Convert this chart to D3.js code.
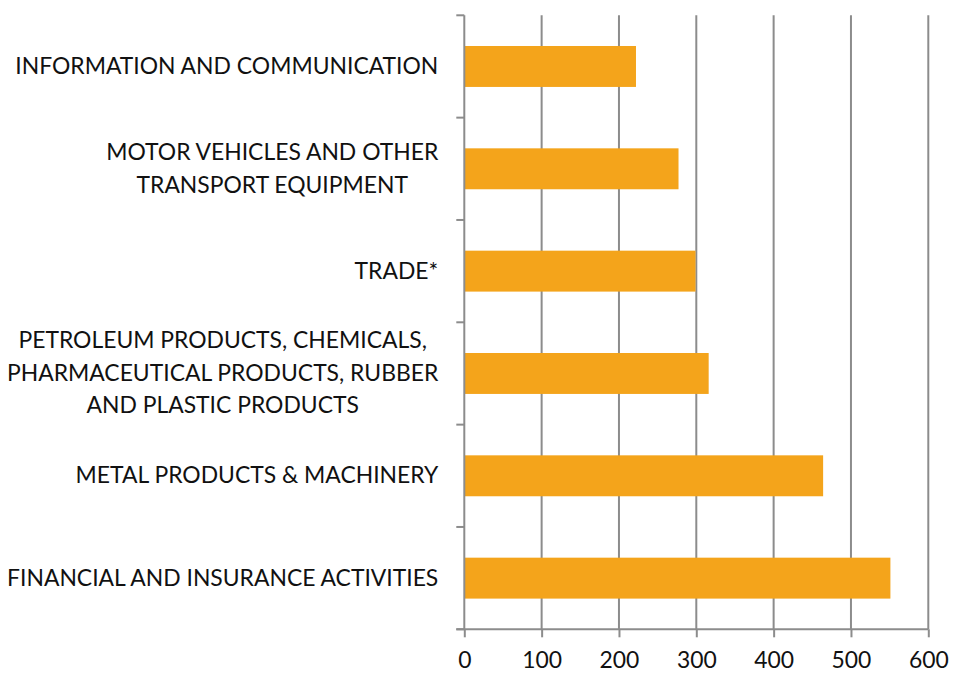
<!DOCTYPE html>
<html>
<head>
<meta charset="utf-8">
<script src="https://cdn.jsdelivr.net/npm/d3@7"></script>
<style>
  html, body { margin: 0; padding: 0; background: #fff; }
  svg { display: block; }
  text { font-family: Lato, "Open Sans", sans-serif; fill: #111; }
</style>
</head>
<body>
<svg id="chart" width="953" height="675"></svg>
<script>
// Sectors, top to bottom, each label split into its display lines
const categories = [
  ["INFORMATION AND COMMUNICATION"],
  ["MOTOR VEHICLES AND OTHER", "TRANSPORT EQUIPMENT"],
  ["TRADE*"],
  ["PETROLEUM PRODUCTS, CHEMICALS, ", "PHARMACEUTICAL PRODUCTS, RUBBER", "AND PLASTIC PRODUCTS"],
  ["METAL PRODUCTS & MACHINERY"],
  ["FINANCIAL AND INSURANCE ACTIVITIES"]
];
const values = [222, 277, 299, 316, 464, 551];
const xTicks = [0, 100, 200, 300, 400, 500, 600];

const svg = d3.select("#chart");
const margin = { left: 464.3, right: 953 - 928.3, top: 15.3, bottom: 675 - 629.3 };
const width = 953 - margin.left - margin.right;
const height = 675 - margin.top - margin.bottom;
const fontSize = 22.9;
const lineH = 32.5;

const x = d3.scaleLinear().domain([0, 600]).range([0, width]);
const y = d3.scaleBand().domain(d3.range(categories.length)).range([0, height])
  .paddingInner(0.6).paddingOuter(0.3);

const g = svg.append("g").attr("transform", `translate(${margin.left},${margin.top})`);

// Vertical gridlines
g.append("g").selectAll("line").data(xTicks.slice(1)).join("line")
  .attr("x1", d => x(d)).attr("x2", d => x(d))
  .attr("y1", 0).attr("y2", height)
  .attr("stroke", "#8c8c8c").attr("stroke-width", 2);

// Bars
g.append("g").selectAll("rect").data(values).join("rect")
  .attr("x", 0)
  .attr("y", (d, i) => y(i))
  .attr("width", d => x(d))
  .attr("height", y.bandwidth())
  .attr("fill", "#f4a41b");

// Bottom axis
const xAxis = g.append("g").attr("transform", `translate(0,${height})`)
  .call(d3.axisBottom(x).tickValues(xTicks).tickSize(8).tickPadding(14).tickFormat(d3.format("d")));
xAxis.select(".domain").attr("stroke", "#8c8c8c").attr("stroke-width", 2)
  .attr("d", `M-8,0H${width}`);
xAxis.selectAll(".tick line").attr("stroke", "#8c8c8c").attr("stroke-width", 2);
xAxis.selectAll(".tick text").attr("font-size", fontSize).attr("font-family", "Lato, 'Open Sans', sans-serif").attr("fill", "#111");

// Left axis: line plus category boundary ticks
const bounds = d3.range(categories.length + 1).map(i => i * height / categories.length);
g.append("line").attr("x1", 0).attr("x2", 0).attr("y1", 0).attr("y2", height)
  .attr("stroke", "#8c8c8c").attr("stroke-width", 2);
g.append("g").selectAll("line").data(bounds).join("line")
  .attr("x1", -8).attr("x2", 0).attr("y1", d => d).attr("y2", d => d)
  .attr("stroke", "#8c8c8c").attr("stroke-width", 2);

// Category labels: centred lines, block right-aligned against the axis
const labelRight = -26;
categories.forEach((lines, i) => {
  const cy = y(i) + y.bandwidth() / 2;
  const grp = g.append("g");
  const texts = lines.map((t, k) => grp.append("text")
    .attr("font-size", fontSize)
    .attr("y", cy + (k - (lines.length - 1) / 2) * lineH + 7.5)
    .attr("text-anchor", "middle")
    .text(t));
  const maxW = d3.max(texts, t => t.node().getComputedTextLength());
  texts.forEach(t => t.attr("x", labelRight - maxW / 2));
});
</script>
</body>
</html>
